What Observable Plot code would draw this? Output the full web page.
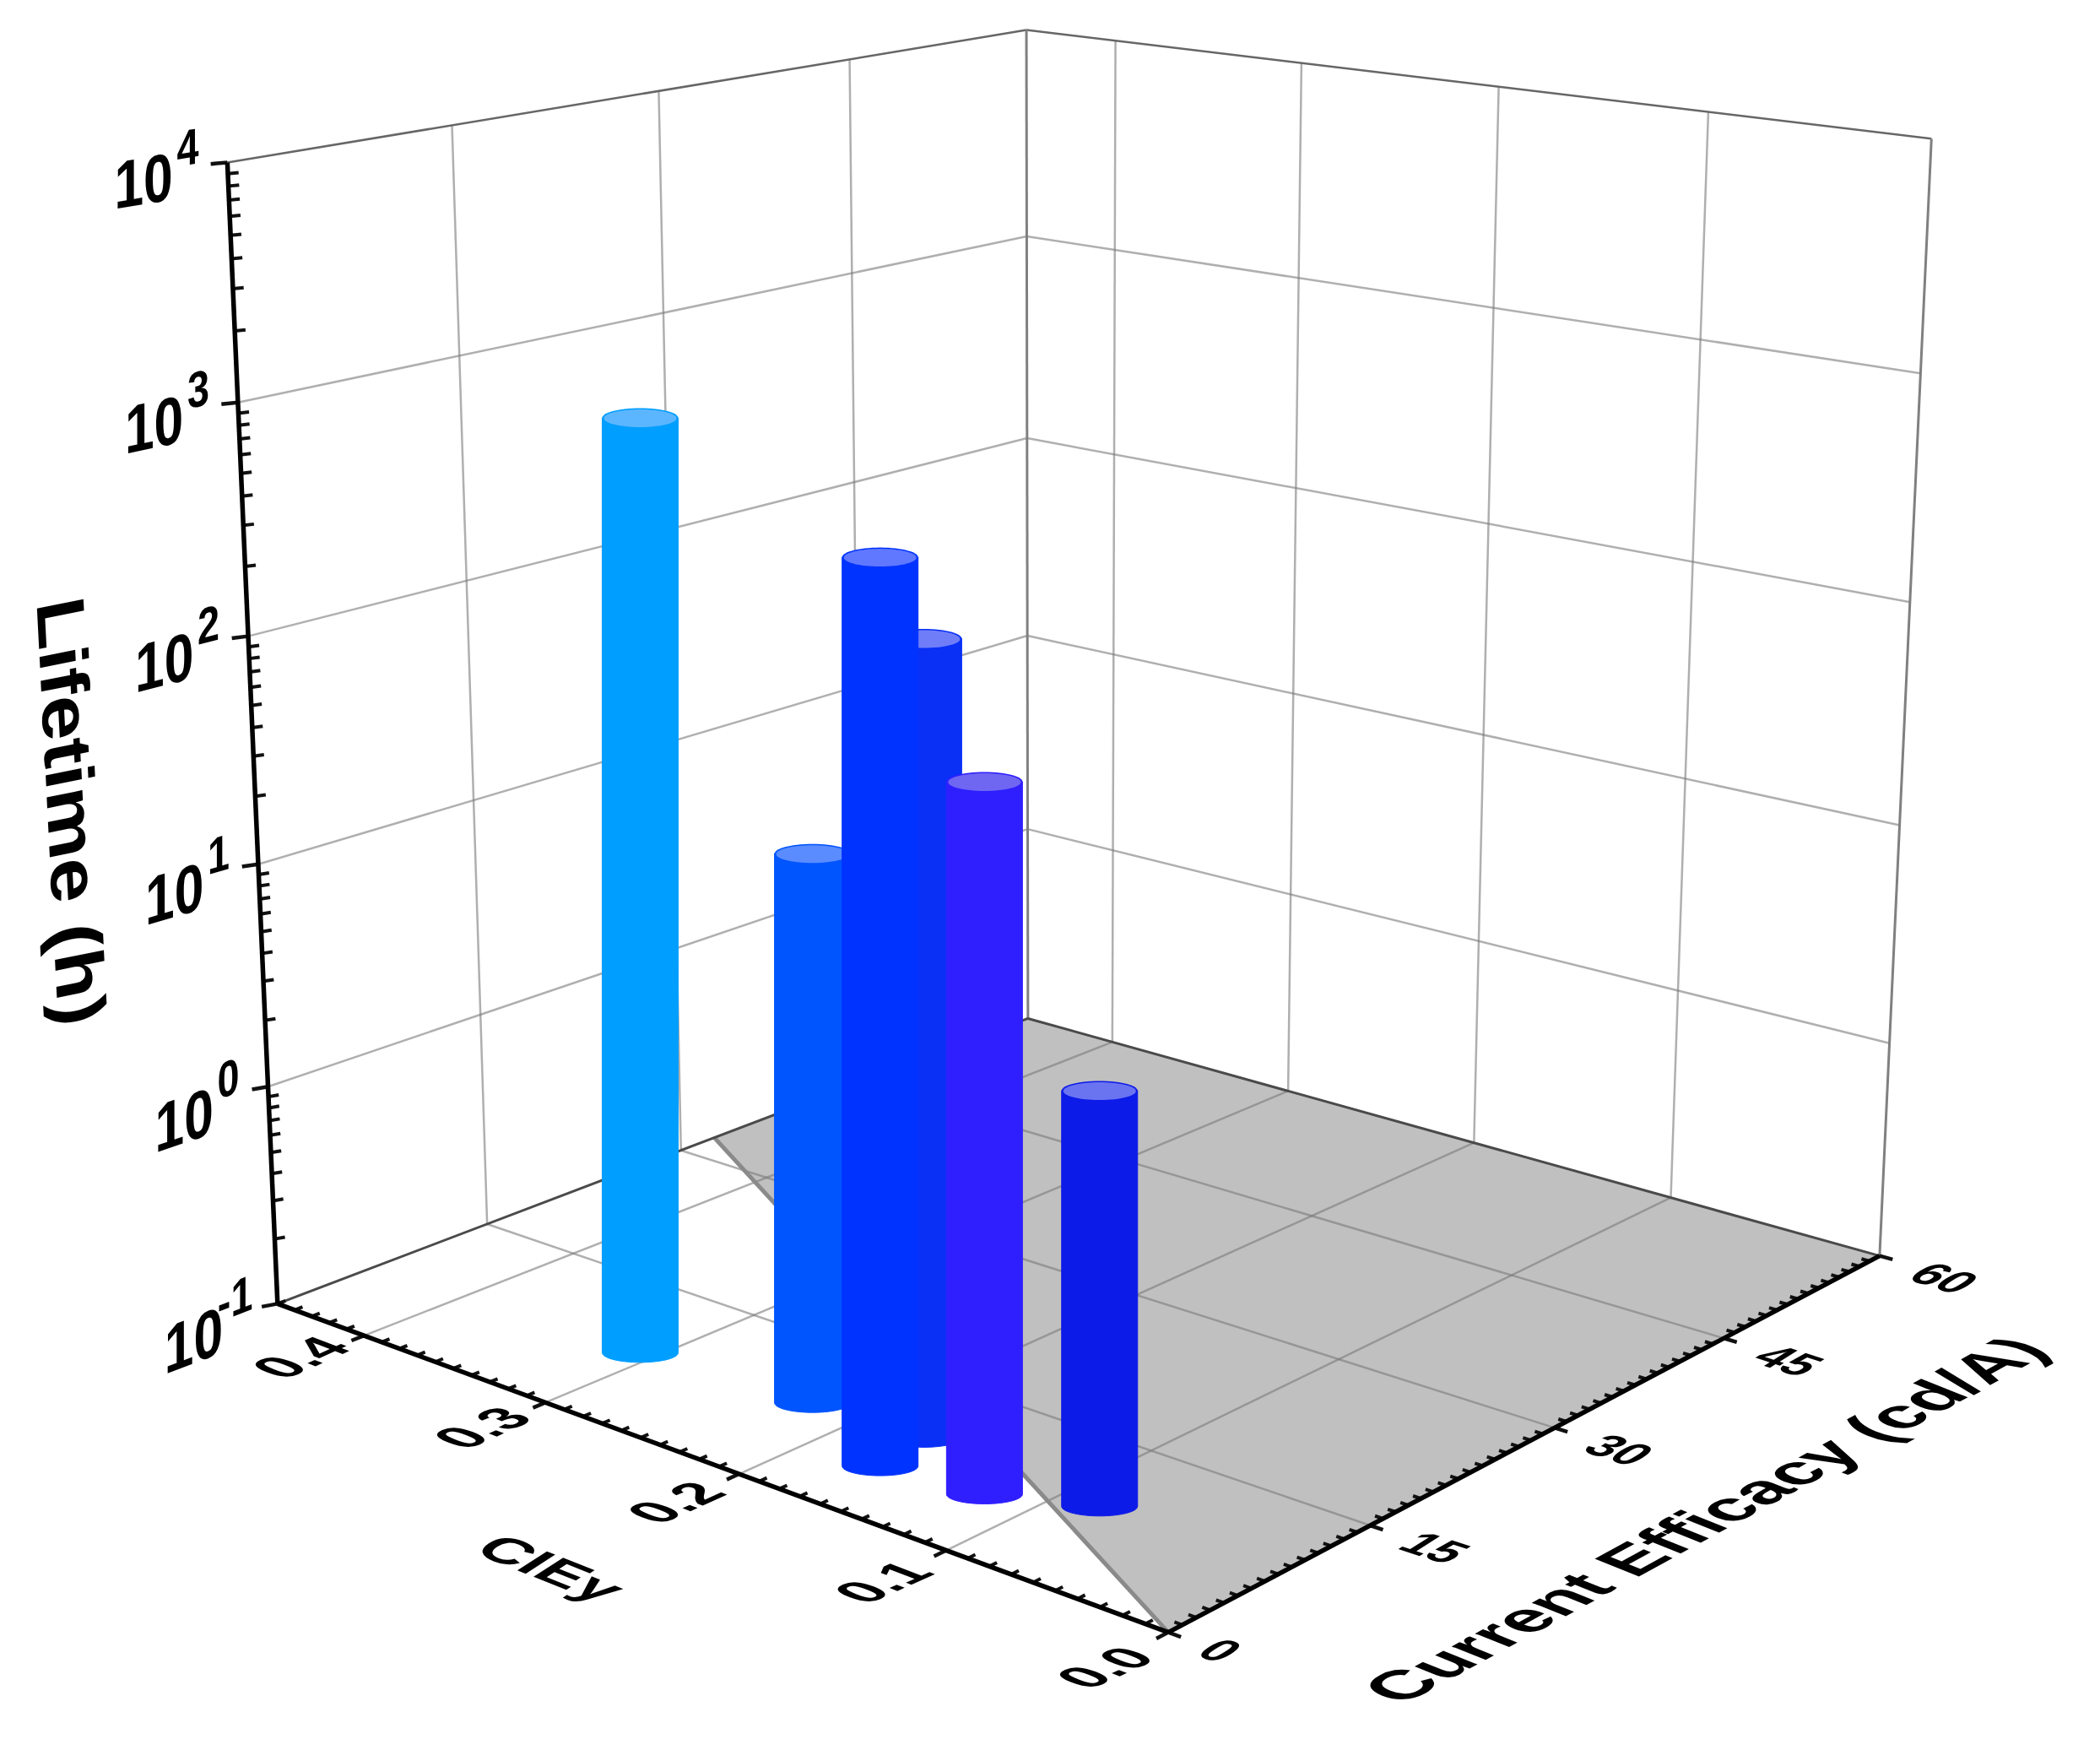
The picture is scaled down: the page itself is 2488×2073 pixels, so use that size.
<!DOCTYPE html>
<html><head><meta charset="utf-8">
<style>html,body{margin:0;padding:0;background:#fff}svg{display:block}</style>
<script src="https://cdn.jsdelivr.net/npm/d3@7"></script>
<script src="https://cdn.jsdelivr.net/npm/@observablehq/plot@0.6"></script>
</head><body><div id="c"></div><script>
const cieY=[0.307,0.224,0.171,0.166,0.121,0.083];
const efficacy=[7.6,8.6,9.0,5.1,5.9,8.4];
const lifetime=[1130,24,233,581,89,5.5];
const bodyColor=["#009eff","#0055ff","#0a30f6","#0033ff","#2f1fff","#0d1be8"];
const capColor=["#5cb6ff","#5a8cff","#6f7ef8","#6078ff","#6f66f2","#6a74f0"];
const cieTicks=[0,0.1,0.2,0.3,0.4];
const effTicks=[0,15,30,45,60];
const decades=[-1,0,1,2,3,4];
const cieMax=0.45, effMax=60;
const greyCie=[0.45,0.45,0,0];
const greyEff=[32.7,60,60,0];
const W=2488,H=2073;

// camera: least-squares 3x4 projective matrix through the box corners
const corners=[[0,0,0,1385,1933],[1,0,0,328,1543],[0,1,0,2226,1488],[1,1,0,1217,1206],[1,0,1,268,193],[1,1,1,1217,35],[0,1,1,2287,163]];
function solveCam(){
  const A=[],b=[];
  for(const [u,v,w,x,y] of corners){
    A.push([u,v,w,1,0,0,0,0,-x*u,-x*v,-x*w]);b.push(x);
    A.push([0,0,0,0,u,v,w,1,-y*u,-y*v,-y*w]);b.push(y);
  }
  const n=11,M=d3.range(n).map(i=>d3.range(n+1).map(j=>j<n?d3.sum(A,r=>r[i]*r[j]):d3.sum(A,(r,k)=>r[i]*b[k])));
  for(let i=0;i<n;i++){
    let p=i;for(let k=i+1;k<n;k++)if(Math.abs(M[k][i])>Math.abs(M[p][i]))p=k;
    [M[i],M[p]]=[M[p],M[i]];
    for(let k=0;k<n;k++)if(k!==i){const f=M[k][i]/M[i][i];for(let j=i;j<=n;j++)M[k][j]-=f*M[i][j];}
  }
  return M.map((r,i)=>r[n]/r[i]);
}
const C=solveCam();
function proj(u,v,w){const d=C[8]*u+C[9]*v+C[10]*w+1;return [(C[0]*u+C[1]*v+C[2]*w+C[3])/d,(C[4]*u+C[5]*v+C[6]*w+C[7])/d];}
const P=(c,e,lg)=>proj(c/cieMax,e/effMax,(lg+1)/5);
const unit=([x0,y0],[x1,y1])=>{const h=Math.hypot(x1-x0,y1-y0);return [(x1-x0)/h,(y1-y0)/h];};

const segs=(list)=>list.map(([a,b])=>({x1:a[0],y1:a[1],x2:b[0],y2:b[1]}));
const link=(list,stroke,strokeWidth,extra={})=>Plot.link(segs(list),{x1:"x1",y1:"y1",x2:"x2",y2:"y2",stroke,strokeWidth,strokeLinecap:"butt",...extra});

const gridLines=[];
for(const e of effTicks.slice(1,4)){
  gridLines.push([P(0,e,-1),P(cieMax,e,-1)]);
  gridLines.push([P(cieMax,e,-1),P(cieMax,e,4)]);
}
for(const c of cieTicks.slice(1)){
  gridLines.push([P(c,0,-1),P(c,effMax,-1)]);
  gridLines.push([P(c,effMax,-1),P(c,effMax,4)]);
}
for(const d of decades.slice(1,5)){
  gridLines.push([P(cieMax,0,d),P(cieMax,effMax,d)]);
  gridLines.push([P(cieMax,effMax,d),P(0,effMax,d)]);
}
const cieMinor=[],cieMajor=[],effMinor=[],effMajor=[],lifeMinor=[],lifeMajor=[];
for(const i of d3.range(0,46)){
  const c=i/100,pt=P(c,0,-1),dir=unit(pt,P(c,3,-1));
  if(i%10===0&&i<=40) cieMajor.push([pt,[pt[0]-dir[0]*16,pt[1]-dir[1]*16]]);
  else cieMinor.push([pt,[pt[0]+dir[0]*10,pt[1]+dir[1]*10]]);
}
for(const e of d3.range(0,61)){
  const pt=P(0,e,-1),dir=unit(pt,P(0.03,e,-1));
  if(e%15===0) effMajor.push([pt,[pt[0]-dir[0]*16,pt[1]-dir[1]*16]]);
  else effMinor.push([pt,[pt[0]+dir[0]*10,pt[1]+dir[1]*10]]);
}
for(const d of decades){
  const pt=P(cieMax,0,d),dir=unit(pt,P(cieMax,6,d));
  lifeMajor.push([pt,[pt[0]-dir[0]*20,pt[1]-dir[1]*10]]);
  if(d<4) for(const m of d3.range(2,10)){
    const q=P(cieMax,0,d+Math.log10(m));
    lifeMinor.push([q,[q[0]+dir[0]*13,q[1]+dir[1]*6]]);
  }
}

// text on the chart's planes: each label carries its plane matrix
const labels=[];
const tx=(text,x,y,m,size)=>labels.push({text,x,y,m,size});
for(const d of decades){
  const pt=P(cieMax,0,d),dir=unit(pt,P(cieMax,6,d)),sl=dir[1]/dir[0];
  const m=[0.78,0.78*sl,0,1];
  tx("10",pt[0]-134,pt[1]+33-134*sl,m,80);
  const ox=d===-1?-71:-60;
  tx(String(d),pt[0]+ox,pt[1]-5+ox*sl,m,60);
}
const cieM=[1.09,-0.49,1.15,0.44];
for(const c of cieTicks){const pt=P(c,0,-1);tx(c.toFixed(1),pt[0]-95,pt[1]+69-40*c,cieM,55);}
const effM=[1.08,0.35,-0.95,0.6];
for(const e of effTicks){const pt=P(0,e,-1);tx(String(e),pt[0]+30,pt[1]+27,effM,50);}
tx("CIEy",558,1838,[1.15,0.46,-0.85,0.55],60);
tx("Current Efficacy (cd/A)",1660,2020,[0.889,-0.484,0.95,0.38],80);
tx("Lifetime (h)",43,714,[0.06,1.17,-1.0,0.2],80);

// cylinders
const R=45,RY=11.5,angles=d3.range(0,361,6).map(a=>a*Math.PI/180);
const bars=[];
cieY.forEach((c,i)=>{
  const base=P(c,efficacy[i],-1),top=P(c,efficacy[i],Math.log10(lifetime[i]));
  const cx=base[0],by=base[1],ty=top[1];
  const body=[[cx-R,ty],...angles.filter(a=>a<=Math.PI+1e-6).map(a=>[cx-R*Math.cos(a),by+RY*Math.sin(a)]),[cx+R,ty]];
  const cap=angles.map(a=>[cx+R*Math.cos(a),ty+RY*Math.sin(a)]);
  const rim=angles.map(a=>[cx+(R-2)*Math.cos(a),ty+0.5+(RY-1)*Math.sin(a)]);
  const shape=(pts,fill,extra={})=>Plot.line(pts,{x:d=>d[0],y:d=>d[1],fill,stroke:"none",curve:"linear",...extra});
  bars.push(shape(body,bodyColor[i],{stroke:bodyColor[i],strokeWidth:1}),shape(cap,bodyColor[i]),shape(rim,capColor[i]));
});

const greyPts=greyCie.map((c,i)=>P(c,greyEff[i],-1));
const A=P(greyCie[0],greyEff[0],-1),F=P(0,0,-1),Lc=P(cieMax,0,-1),Bc=P(cieMax,effMax,-1),Rc=P(0,effMax,-1),
      TL=P(cieMax,0,4),TB=P(cieMax,effMax,4),TR=P(0,effMax,4);

const chart=Plot.plot({
  width:W,height:H,margin:0,
  x:{type:"identity",axis:null},y:{type:"identity",axis:null},
  style:{background:"#fff"},
  marks:[
    Plot.line(greyPts,{x:d=>d[0],y:d=>d[1],fill:"#c0c0c0",stroke:"none"}),
    link(gridLines,"#7a7a7a",2.5,{strokeOpacity:0.6}),
    link([[A,F]],"#8a8a8a",5),
    link([[TL,TB],[TB,TR]],"#666",2.5),
    link([[TB,Bc],[TR,Rc]],"#808080",3),
    link([[Lc,Bc],[Bc,Rc]],"#4a4a4a",3),
    link(cieMinor.concat(effMinor),"#111",4),
    link(lifeMinor,"#111",4),
    link(cieMajor.concat(effMajor,lifeMajor),"#111",4.5),
    link([[F,Lc],[F,Rc],[Lc,TL]],"#000",5.5),
    ...bars,
    Plot.text(labels,{x:"x",y:"y",text:"text",fontSize:d=>d.size,fontWeight:"bold",fontFamily:"'Liberation Sans',Arial,sans-serif",textAnchor:"start",lineAnchor:"bottom",fill:"#000",className:"lbl"})
  ]
});
d3.select(chart).selectAll(".lbl text").each(function(_,j){
  const l=labels[j];
  this.setAttribute("transform",`translate(${l.x},${l.y}) matrix(${l.m.join(",")},0,0)`);
});
document.getElementById("c").appendChild(chart);
</script></body></html>
